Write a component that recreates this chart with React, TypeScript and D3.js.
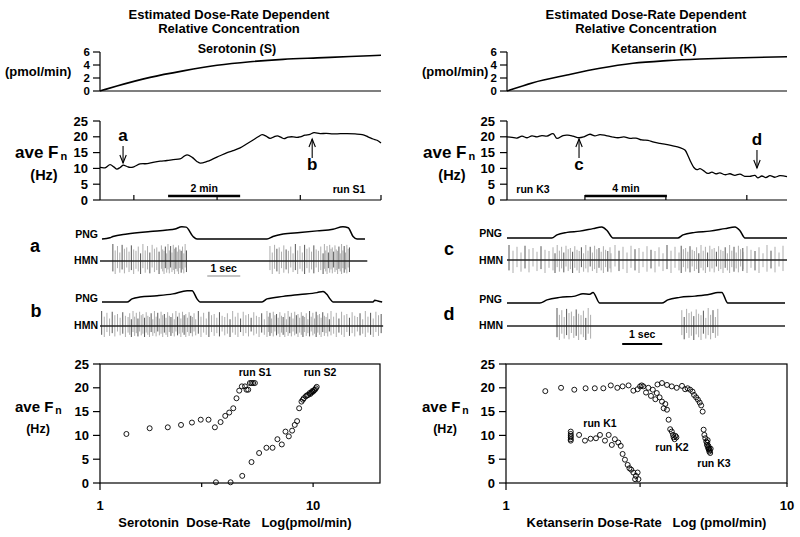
import React from "react";
import * as d3 from "d3";

// ---------------- Row 1: estimated dose-rate dependent concentration (pmol/min) vs time (min)
const concTicks = [0, 2, 4, 6];
const serConcTime = [0, 0.15, 0.47, 1.39, 2.31, 3.25, 4.17, 5.08, 6.03, 6.94, 7.8];
const serConcVal = [0, 0.25, 0.77, 2.1, 3.1, 3.95, 4.5, 4.87, 5.1, 5.3, 5.5];
const ketConcTime = [0, 1.28, 2.96, 4.58, 6.21, 7.88, 9.51, 11.13, 13.8];
const ketConcVal = [0, 1.28, 2.46, 3.49, 4.26, 4.67, 4.92, 5.08, 5.28];

// ---------------- Row 2: ave Fn (Hz) vs time (min)
const fnTicks = [0, 5, 10, 15, 20, 25];
const s1Time = [0, 0.14, 0.28, 0.39, 0.47, 0.56, 0.64, 0.75, 0.83, 0.94, 1.11, 1.31, 1.47, 1.67, 1.86, 2.03, 2.22, 2.33, 2.42, 2.56, 2.69, 2.78, 2.97, 3.14, 3.33, 3.53, 3.69, 3.89, 4.08, 4.25, 4.39, 4.5, 4.61, 4.72, 4.83, 4.92, 5.03, 5.11, 5.22, 5.36, 5.47, 5.56, 5.69, 5.83, 5.94, 6.11, 6.28, 6.47, 6.67, 6.86, 7.08, 7.28, 7.44, 7.58, 7.69, 7.8];
const s1Fn = [10.3, 10.2, 11.2, 10.4, 9.8, 10.3, 11.0, 10.6, 10.3, 10.5, 11.4, 11.5, 11.9, 12.3, 12.5, 12.8, 13.0, 13.8, 14.3, 13.5, 12.2, 11.7, 12.2, 13.0, 14.0, 15.0, 15.6, 16.5, 17.8, 19.0, 20.0, 20.7, 20.2, 19.5, 20.0, 20.3, 19.8, 19.4, 19.9, 20.0, 19.8, 20.0, 20.5, 20.8, 21.3, 21.0, 21.1, 20.9, 21.0, 21.0, 20.9, 20.7, 20.0, 19.3, 18.9, 18.0];
const s1TimeTicks = [0.94, 3.25, 5.56, 7.8];
const s1ScaleBar = [1.89, 3.89];
const s1Arrows = [{ label: "a", t: 0.64 }, { label: "b", t: 5.89 }];

const k3Time = [0, 0.25, 0.49, 0.74, 0.99, 1.23, 1.48, 1.72, 1.97, 2.27, 2.46, 2.76, 3.0, 3.25, 3.55, 3.79, 4.09, 4.33, 4.58, 4.88, 5.17, 5.47, 5.76, 6.06, 6.35, 6.65, 6.95, 7.24, 7.54, 7.83, 8.13, 8.52, 8.77, 8.92, 9.06, 9.21, 9.36, 9.51, 9.7, 9.9, 10.1, 10.3, 10.49, 10.74, 10.99, 11.23, 11.48, 11.72, 11.97, 12.22, 12.36, 12.56, 12.76, 12.96, 13.2, 13.45, 13.8];
const k3Fn = [20.0, 19.8, 19.6, 20.2, 19.7, 20.3, 20.0, 20.4, 20.2, 21.0, 19.5, 20.4, 20.5, 20.2, 19.7, 20.0, 20.8, 20.3, 20.7, 20.4, 20.0, 19.7, 20.0, 19.5, 19.6, 19.0, 18.9, 18.3, 17.9, 17.6, 17.2, 16.6, 15.8, 14.0, 12.0, 10.3, 9.6, 9.9, 9.2, 8.4, 8.8, 8.3, 8.6, 8.0, 8.3, 7.8, 8.2, 7.5, 7.5, 7.8, 7.0, 7.6, 7.1, 7.7, 7.2, 7.7, 7.4];
const k3TimeTicks = [3.84, 7.83, 11.82];
const k3ScaleBar = [3.84, 7.88];
const k3Arrows = [{ label: "c", t: 3.55 }, { label: "d", t: 12.32 }];

// ---------------- Row 3: PNG / HMN recordings (time in s)
const pngATime = [0.06, 0.3, 0.39, 0.82, 1.52, 2.03, 2.27, 2.48, 2.61, 2.82, 2.94, 5.06, 5.24, 5.55, 6.06, 6.58, 7.06, 7.36, 7.52, 7.67, 7.79, 8.03];
const pngAVal = [0, 0.1, 0.2, 0.4, 0.6, 0.72, 0.8, 0.98, 0.95, 0.2, 0, 0, 0.2, 0.4, 0.52, 0.65, 0.78, 0.98, 0.9, 0.2, 0, 0];
const pngBTime = [0.06, 0.82, 0.97, 1.21, 1.73, 2.21, 2.64, 2.79, 2.94, 3.03, 4.91, 5.06, 5.55, 6.06, 6.58, 6.76, 6.88, 6.97, 7.06, 8.27, 8.33, 8.42, 8.55];
const pngBVal = [0, 0, 0.25, 0.4, 0.5, 0.65, 0.9, 0.9, 0.25, 0, 0, 0.25, 0.45, 0.6, 0.75, 0.85, 0.6, 0.25, 0, 0, 0.15, 0.08, 0];
const pngCTime = [0, 1.12, 1.25, 1.5, 1.82, 2.15, 2.37, 2.5, 2.65, 4.27, 4.4, 4.7, 5.07, 5.45, 5.7, 5.82, 5.95, 7.0];
const pngCVal = [0, 0, 0.25, 0.45, 0.55, 0.75, 0.88, 0.6, 0, 0, 0.25, 0.45, 0.55, 0.75, 0.88, 0.6, 0, 0];
const pngDTime = [0, 0.82, 1.0, 1.32, 1.7, 1.9, 2.07, 2.15, 2.32, 3.87, 4.02, 4.32, 4.7, 5.07, 5.27, 5.37, 5.52, 6.95];
const pngDVal = [0, 0, 0.25, 0.45, 0.55, 0.75, 0.7, 0.85, 0, 0, 0.25, 0.45, 0.55, 0.7, 0.85, 0.85, 0, 0];

// HMN firing: [start s, end s, inter-spike interval s]
const hmnABursts = [[0.39, 1.9, 0.07], [1.9, 2.64, 0.04], [5.15, 6.8, 0.07], [6.8, 7.58, 0.04]];
const hmnBBursts = [[0.05, 0.9, 0.08], [0.9, 2.9, 0.05], [2.9, 5.1, 0.08], [5.1, 7.0, 0.05], [7.0, 8.55, 0.08]];
const hmnCBursts = [[0.05, 1.2, 0.1], [1.2, 2.6, 0.055], [2.6, 4.3, 0.1], [4.3, 5.9, 0.055], [5.9, 6.95, 0.1]];
const hmnDBursts = [[1.25, 2.15, 0.06], [4.37, 5.32, 0.06]];
const spikeAmp = [1.0, 0.62, 0.88, 0.5, 0.95, 0.72, 0.8, 0.55, 0.92, 0.68, 0.6, 0.85, 0.45];
const spikeAmpDown = [0.8, 1.0, 0.55, 0.9, 0.65, 0.95, 0.5, 0.85, 0.7, 1.0, 0.6];

// ---------------- Row 4: ave Fn vs log dose-rate
const s1Dose = [1.33, 1.71, 2.08, 2.4, 2.7, 2.97, 3.23, 3.46, 3.68, 3.87, 4.04, 4.22, 4.37, 4.5, 4.63, 4.79, 4.87, 4.96, 5.05, 5.14, 5.23, 5.33];
const s1Hz = [10.3, 11.5, 11.7, 12.2, 12.7, 13.3, 13.3, 11.7, 12.8, 14.1, 14.8, 15.7, 17.8, 19.4, 20.3, 20.3, 19.6, 19.6, 21, 21, 21, 21];
const s2Dose = [3.5, 4.1, 4.65, 5.14, 5.58, 6.04, 6.45, 6.8, 7.13, 7.42, 7.69, 7.97, 8.2, 8.41, 8.6, 8.82, 9.04, 9.24, 9.48, 9.64, 9.82, 10.0, 10.2, 10.3, 10.4, 8.95, 9.35, 9.7, 9.9, 10.1];
const s2Hz = [0.15, 0.15, 1.5, 4.4, 6.3, 7.4, 7.4, 9.2, 8.1, 10.8, 9.8, 11.0, 12.2, 13.0, 15.7, 17.1, 17.8, 18.2, 18.5, 18.9, 19.0, 19.2, 19.6, 19.9, 20.2, 17.5, 18.4, 18.7, 19.3, 19.5];
const k1Dose = [1.7, 1.7, 1.7, 1.7, 1.7, 1.7, 1.82, 1.91, 2.0, 2.09, 2.16, 2.25, 2.32, 2.38, 2.44, 2.51, 2.56, 2.6, 2.65, 2.71, 2.75, 2.79, 2.84, 2.88, 2.9, 2.94, 2.96];
const k1Hz = [10.8, 10.3, 9.9, 9.6, 9.2, 8.9, 10.1, 8.9, 9.3, 9.4, 10.1, 8.9, 10.1, 8.0, 9.2, 8.5, 7.8, 6.1, 4.9, 3.8, 3.1, 2.8, 2.2, 0.8, 1.5, 2.2, 0.8];
const k2Dose = [1.38, 1.57, 1.75, 1.92, 2.07, 2.22, 2.36, 2.49, 2.6, 2.73, 2.84, 2.94, 3.0, 3.04, 3.08, 3.15, 3.21, 3.28, 3.33, 3.4, 3.44, 3.52, 3.59, 3.64, 3.69, 3.74, 3.79, 3.84, 3.89, 3.93, 3.95, 3.98, 4.01, 4.04];
const k2Hz = [19.3, 20.0, 19.6, 19.9, 19.9, 19.9, 20.5, 20.0, 20.3, 20.5, 19.4, 19.7, 20.3, 20.5, 20.3, 19.0, 20.0, 18.3, 19.6, 17.6, 18.9, 18.0, 17.1, 15.7, 16.6, 15.4, 13.3, 11.3, 10.8, 10.1, 9.6, 9.2, 9.9, 9.6];
const k3Dose = [3.46, 3.59, 3.74, 3.89, 4.05, 4.23, 4.34, 4.43, 4.52, 4.61, 4.67, 4.75, 4.82, 4.89, 4.95, 5.01, 5.05, 5.08, 5.12, 5.16, 5.19, 5.23, 5.26, 5.29, 5.33, 5.2, 5.25, 5.28, 5.31, 5.35, 5.22];
const k3Hz = [20.7, 21, 20.6, 20.3, 20.0, 20.4, 19.7, 19.9, 19.6, 19.2, 18.5, 18.0, 17.5, 16.9, 16.3, 15.0, 11.2, 10.1, 9.4, 8.7, 8.0, 7.5, 7.1, 6.6, 6.3, 8.5, 7.8, 7.3, 6.9, 7.2, 9.0];
const doseTicks = [1, 3, 10];
const doseTickLabels = ["1", "", "10"];

const FONT = "'Liberation Sans', Arial, Helvetica, sans-serif";

const zip = (xs: number[], ys: number[]) => xs.map((x, i) => [x, ys[i]] as [number, number]);

function T(props: any) {
  const { children, ...rest } = props;
  return (
    <text fontFamily={FONT} fontWeight={700} fill="#000" {...rest}>
      {children}
    </text>
  );
}

function FnLabel({ x, y, size, sub, hzY, hzX, hzSize }: any) {
  return (
    <g>
      <T x={x} y={y} fontSize={size}>
        ave F
        <tspan dx={2} dy={sub * 0.22} fontSize={sub}>n</tspan>
      </T>
      <T x={hzX} y={hzY} fontSize={hzSize} textAnchor="middle">(Hz)</T>
    </g>
  );
}

function ConcPanel({ x0, x1, dmax, time, val, title, dx }: any) {
  const xs = d3.scaleLinear().domain([0, dmax]).range([x0, x1]);
  const ys = d3.scaleLinear().domain([0, 6]).range([91, 52]);
  const line = d3.line<[number, number]>().x((d) => xs(d[0])).y((d) => ys(d[1])).curve(d3.curveMonotoneX);
  const cx = 229 + dx;
  return (
    <g>
      <T x={cx} y={19} fontSize={13} textAnchor="middle">Estimated Dose-Rate Dependent</T>
      <T x={cx} y={33} fontSize={13} textAnchor="middle">Relative Concentration</T>
      <T x={cx + 8} y={53} fontSize={12.5} textAnchor="middle">{title}</T>
      <T x={5 + dx} y={76} fontSize={13}>(pmol/min)</T>
      <line x1={x0} x2={x0} y1={ys(6)} y2={ys(0)} stroke="#000" strokeWidth={1.2} />
      <line x1={x0} x2={x1} y1={ys(0)} y2={ys(0)} stroke="#000" strokeWidth={1.2} />
      {concTicks.map((t) => (
        <g key={t}>
          <line x1={x0 - 7} x2={x0} y1={ys(t)} y2={ys(t)} stroke="#000" strokeWidth={1.2} />
          <T x={x0 - 10} y={ys(t) + 4} fontSize={11.5} textAnchor="end">{t}</T>
        </g>
      ))}
      <path d={line(zip(time, val)) || ""} fill="none" stroke="#000" strokeWidth={1.6} />
    </g>
  );
}

function Arrow({ x, yTail, yTip }: any) {
  const dir = yTip > yTail ? 1 : -1;
  return (
    <g stroke="#000" strokeWidth={1.1} fill="none">
      <line x1={x} x2={x} y1={yTail} y2={yTip} />
      <path d={`M${x - 3.2},${yTip - dir * 8} L${x},${yTip} L${x + 3.2},${yTip - dir * 8}`} />
    </g>
  );
}

function FnPanel({ x0, x1, dmax, time, fn, ticks, bar, barLabel, arrows, run, runX, dx }: any) {
  const xs = d3.scaleLinear().domain([0, dmax]).range([x0, x1]);
  const ys = d3.scaleLinear().domain([0, 25]).range([200, 121]);
  const line = d3.line<[number, number]>().x((d) => xs(d[0])).y((d) => ys(d[1])).curve(d3.curveCatmullRom);
  return (
    <g>
      <FnLabel x={15 + dx} y={158} size={17} sub={11} hzX={44 + dx} hzY={180} hzSize={14.5} />
      <line x1={x0} x2={x0} y1={ys(25)} y2={ys(0)} stroke="#000" strokeWidth={1.2} />
      <line x1={x0} x2={x1} y1={ys(0)} y2={ys(0)} stroke="#000" strokeWidth={1.2} />
      {fnTicks.map((t) => (
        <g key={t}>
          <line x1={x0 - 7} x2={x0} y1={ys(t)} y2={ys(t)} stroke="#000" strokeWidth={1.2} />
          <T x={x0 - 12} y={ys(t) + 4.5} fontSize={13} textAnchor="end">{t}</T>
        </g>
      ))}
      {ticks.map((t: number) => (
        <line key={t} x1={xs(t)} x2={xs(t)} y1={ys(0)} y2={ys(0) - 5} stroke="#000" strokeWidth={1.2} />
      ))}
      <path d={line(zip(time, fn)) || ""} fill="none" stroke="#000" strokeWidth={1.3} />
      <line x1={xs(bar[0])} x2={xs(bar[1])} y1={196} y2={196} stroke="#000" strokeWidth={2.6} />
      <T x={(xs(bar[0]) + xs(bar[1])) / 2} y={192} fontSize={10.5} textAnchor="middle">{barLabel}</T>
      <T x={runX} y={193} fontSize={10.5} textAnchor="middle">{run}</T>
      {arrows.map((a: any) => {
        const x = xs(a.t);
        const down = a.label === "a" || a.label === "d";
        const yTail = down ? (a.label === "a" ? 146 : 150) : 158;
        const yTip = down ? (a.label === "a" ? 163 : 168) : 139;
        const ly = down ? yTail - 5 : yTail + 12;
        return (
          <g key={a.label}>
            <Arrow x={x} yTail={yTail} yTip={yTip} />
            <T x={x} y={ly} fontSize={17} textAnchor="middle">{a.label}</T>
          </g>
        );
      })}
    </g>
  );
}

function Png({ xs, time, val, base }: any) {
  const ys = d3.scaleLinear().domain([0, 1]).range([base, base - 12.5]);
  const line = d3.line<[number, number]>().x((d) => xs(d[0])).y((d) => ys(d[1])).curve(d3.curveMonotoneX);
  return <path d={line(zip(time, val)) || ""} fill="none" stroke="#000" strokeWidth={1.5} />;
}

function Hmn({ xs, bursts, base, up, down, tEnd, tStart }: any) {
  const spikes: number[] = [];
  bursts.forEach((b: number[]) => {
    for (let t = b[0]; t < b[1] - 1e-6; t += b[2]) spikes.push(t);
  });
  return (
    <g>
      {spikes.map((t, i) => {
        const a = spikeAmp[i % spikeAmp.length];
        const b = spikeAmpDown[i % spikeAmpDown.length];
        const dark = i % 4 === 0;
        return (
          <line
            key={i}
            x1={xs(t)}
            x2={xs(t)}
            y1={base - up * a}
            y2={base + down * b}
            stroke={dark ? "#444" : "#8a8a8a"}
            strokeWidth={dark ? 0.9 : 0.7}
          />
        );
      })}
      <line x1={xs(tStart)} x2={xs(tEnd)} y1={base} y2={base} stroke="#222" strokeWidth={1.6} />
    </g>
  );
}

function Scatter({ x0, x1, dmax, series, xTitle, labels, dx }: any) {
  const xs = d3.scaleLog().domain([1, dmax]).range([x0, x1]);
  const ys = d3.scaleLinear().domain([0, 25]).range([483, 364]);
  return (
    <g>
      <FnLabel x={15 + dx} y={412} size={15} sub={10.5} hzX={38 + dx} hzY={433} hzSize={12.5} />
      <rect x={x0} y={ys(25)} width={x1 - x0} height={ys(0) - ys(25)} fill="none" stroke="#000" strokeWidth={1.2} />
      {fnTicks.map((t) => (
        <g key={t}>
          <line x1={x0 - 7} x2={x0} y1={ys(t)} y2={ys(t)} stroke="#000" strokeWidth={1.2} />
          <T x={x0 - 11} y={ys(t) + 4.5} fontSize={13} textAnchor="end">{t}</T>
        </g>
      ))}
      {doseTicks.filter((d) => d <= dmax).map((d, i) => (
        <g key={d}>
          <line x1={xs(d)} x2={xs(d)} y1={ys(0)} y2={ys(0) + (d === 1 ? 7 : 4)} stroke="#000" strokeWidth={1.2} />
          <T x={xs(d)} y={510} fontSize={13} textAnchor="middle">{doseTickLabels[i]}</T>
        </g>
      ))}
      {series.map((s: any, si: number) =>
        s.dose.map((d: number, i: number) => (
          <circle key={si + "-" + i} cx={xs(d)} cy={ys(s.hz[i])} r={2.5} fill="none" stroke="#000" strokeWidth={0.9} />
        ))
      )}
      {labels.map((l: any) => (
        <T key={l.text} x={l.x} y={l.y} fontSize={10.5} textAnchor="middle">{l.text}</T>
      ))}
      <T x={(x0 + x1) / 2 + (dx ? 0 : -5)} y={527} fontSize={13} textAnchor="middle" style={{ whiteSpace: "pre" }}>
        {xTitle}
      </T>
    </g>
  );
}

export default function App() {
  const lt = d3.scaleLinear().domain([0, 8.6]).range([100, 100 + 8.6 * 33]);
  const rt = d3.scaleLinear().domain([0, 7]).range([507, 787]);
  return (
    <svg width={800} height={537} style={{ position: "absolute", left: 0, top: 0, background: "#fff" }}>
      <rect x={0} y={0} width={800} height={537} fill="#fff" />
      {/* Row 1 */}
      <ConcPanel x0={100} x1={381} dmax={7.8} time={serConcTime} val={serConcVal} title="Serotonin (S)" dx={0} />
      <ConcPanel x0={507} x1={787} dmax={13.8} time={ketConcTime} val={ketConcVal} title="Ketanserin (K)" dx={417} />

      {/* Row 2 */}
      <FnPanel x0={100} x1={381} dmax={7.8} time={s1Time} fn={s1Fn} ticks={s1TimeTicks} bar={s1ScaleBar} barLabel="2 min" arrows={s1Arrows} run="run S1" runX={349} dx={0} />
      <FnPanel x0={507} x1={787} dmax={13.8} time={k3Time} fn={k3Fn} ticks={k3TimeTicks} bar={k3ScaleBar} barLabel="4 min" arrows={k3Arrows} run="run K3" runX={533} dx={408} />

      {/* Row 3 left */}
      <T x={35} y={252} fontSize={18} textAnchor="middle">a</T>
      <T x={36} y={317} fontSize={18} textAnchor="middle">b</T>
      <T x={98} y={238} fontSize={10.5} textAnchor="end">PNG</T>
      <T x={98} y={264} fontSize={10.5} textAnchor="end">HMN</T>
      <T x={98} y={302} fontSize={10.5} textAnchor="end">PNG</T>
      <T x={98} y={329} fontSize={10.5} textAnchor="end">HMN</T>
      <Png xs={lt} time={pngATime} val={pngAVal} base={239} />
      <Hmn xs={lt} bursts={hmnABursts} base={261} up={17} down={13} tStart={0} tEnd={8.1} />
      <line x1={lt(3.25)} x2={lt(4.25)} y1={276} y2={276} stroke="#888" strokeWidth={1.2} />
      <T x={lt(3.75)} y={272} fontSize={10.5} textAnchor="middle">1 sec</T>
      <Png xs={lt} time={pngBTime} val={pngBVal} base={302} />
      <Hmn xs={lt} bursts={hmnBBursts} base={326} up={15} down={11} tStart={0} tEnd={8.58} />

      {/* Row 3 right */}
      <T x={449} y={255} fontSize={18} textAnchor="middle">c</T>
      <T x={449} y={320} fontSize={18} textAnchor="middle">d</T>
      <T x={502} y={237} fontSize={10.5} textAnchor="end">PNG</T>
      <T x={503} y={264} fontSize={10.5} textAnchor="end">HMN</T>
      <T x={502} y={303} fontSize={10.5} textAnchor="end">PNG</T>
      <T x={503} y={329} fontSize={10.5} textAnchor="end">HMN</T>
      <Png xs={rt} time={pngCTime} val={pngCVal} base={238} />
      <Hmn xs={rt} bursts={hmnCBursts} base={260} up={15} down={13} tStart={0} tEnd={7} />
      <Png xs={rt} time={pngDTime} val={pngDVal} base={303} />
      <Hmn xs={rt} bursts={hmnDBursts} base={326} up={18} down={14} tStart={0} tEnd={6.95} />
      <line x1={rt(2.88)} x2={rt(3.88)} y1={344} y2={344} stroke="#000" strokeWidth={2.2} />
      <T x={rt(3.38)} y={338} fontSize={10.5} textAnchor="middle">1 sec</T>

      {/* Row 4 */}
      <Scatter
        x0={100}
        x1={380}
        dmax={20.6}
        dx={0}
        series={[{ dose: s1Dose, hz: s1Hz }, { dose: s2Dose, hz: s2Hz }]}
        xTitle={"Serotonin  Dose-Rate   Log(pmol/min)"}
        labels={[{ text: "run S1", x: 255, y: 376 }, { text: "run S2", x: 320, y: 376 }]}
      />
      <Scatter
        x0={506}
        x1={787}
        dmax={10}
        dx={407}
        series={[{ dose: k1Dose, hz: k1Hz }, { dose: k2Dose, hz: k2Hz }, { dose: k3Dose, hz: k3Hz }]}
        xTitle={"Ketanserin Dose-Rate   Log (pmol/min)"}
        labels={[{ text: "run K1", x: 600, y: 427 }, { text: "run K2", x: 672, y: 451 }, { text: "run K3", x: 714, y: 467 }]}
      />
    </svg>
  );
}
